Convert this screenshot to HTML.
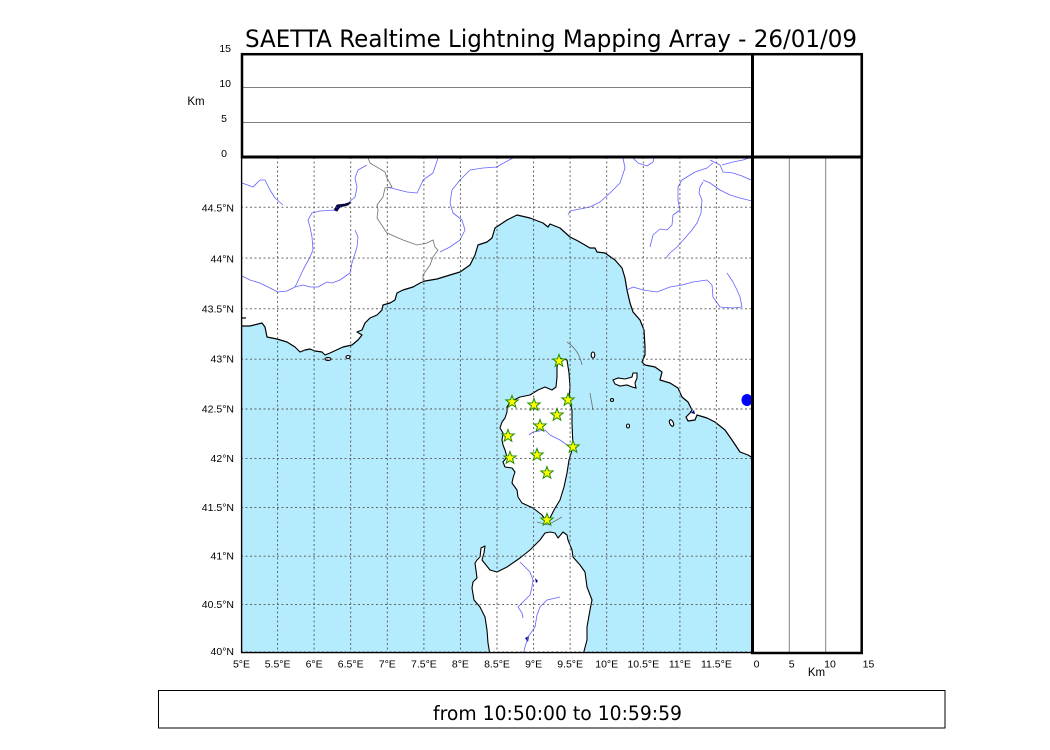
<!DOCTYPE html>
<html><head><meta charset="utf-8"><style>
html,body{margin:0;padding:0;background:#fff;}
svg{display:block;}
text{font-family:"Liberation Sans","DejaVu Sans",sans-serif;fill:#000;}
</style></head><body>
<svg width="1050" height="750" viewBox="0 0 1050 750" xmlns="http://www.w3.org/2000/svg">
<defs>
<clipPath id="mc"><rect x="241.5" y="157" width="510.5" height="496"/></clipPath>
<path id="st" d="M0,-6.5 L1.59,-2.18 L6.18,-2.01 L2.57,0.83 L3.82,5.26 L0,2.7 L-3.82,5.26 L-2.57,0.83 L-6.18,-2.01 L-1.59,-2.18 Z"/>
</defs>
<rect width="1050" height="750" fill="#fff"/>
<text x="551" y="47" font-size="24" text-anchor="middle" textLength="612" lengthAdjust="spacingAndGlyphs" style="font-family:'DejaVu Sans','Liberation Sans',sans-serif">SAETTA Realtime Lightning Mapping Array - 26/01/09</text>

<!-- top panel -->
<line x1="241" y1="87.5" x2="752" y2="87.5" stroke="#808080" stroke-width="1"/>
<line x1="241" y1="122.5" x2="752" y2="122.5" stroke="#808080" stroke-width="1"/>
<g font-size="10.5" text-anchor="end">
<text x="231" y="52">15</text>
<text x="231" y="87">10</text>
<text x="227" y="122">5</text>
<text x="227" y="157">0</text>
</g>
<text x="196" y="105" font-size="11.5" text-anchor="middle">Km</text>

<!-- map -->
<g clip-path="url(#mc)">
<rect x="241" y="157" width="511" height="496" fill="#fff"/>
<path fill="#b5ecfd" stroke="#000" stroke-width="1.2" stroke-linejoin="round" d="M241,326 L250,326 262,323 265,327 267,337 277,339 287,342 295,347 300,352 305,350 310,349 315,351 322,352 325,355 330,353 343,347 352,345 358,340 362,335 357,332 362,330 365,323 370,318 377,315 382,310 383,305 390,303 395,300 397,293 403,290 413,287 420,283 425,281 437,279 450,275 460,272 470,265 475,255 478,245 487,242 492,238 495,228 507,220 517,215 530,218 543,223 548,227 550,224 560,228 570,237 578,241 590,248 595,248 597,252 605,253 615,260 622,268 625,278 627,290 630,303 633,312 640,320 644,330 645,347 645,355 642,362 645,365 655,367 662,372 660,380 670,383 678,388 682,397 688,402 692,410 690,413 686,417 688,421 695,420 697,415 707,418 715,422 725,430 732,440 740,452 748,455 753,458 L753,654 L240,654 Z"/>
<line x1="241" y1="318" x2="246" y2="318" stroke="#000" stroke-width="1.2"/>
<!-- small islands -->
<g fill="#fff" stroke="#000" stroke-width="1.1">
<ellipse cx="328" cy="359" rx="3" ry="1.5"/>
<ellipse cx="348" cy="357" rx="2" ry="1.5"/>
<ellipse cx="593" cy="355" rx="1.8" ry="3" />
<path d="M613,380 L618,378 625,379 632,377 633,373 637,373 637,378 635,383 636,388 632,387 627,385 620,386 615,384 Z"/>
<ellipse cx="612" cy="400" rx="1.5" ry="1.5"/>
<ellipse cx="628" cy="426" rx="1.5" ry="2"/>
<ellipse cx="671.5" cy="423" rx="1.8" ry="3.5" transform="rotate(-25 671.5 423)"/>
<!-- Corsica -->
<path stroke-linejoin="round" d="M559,358 L567,360 569,373 570,387 569,398 572,410 572,423 573,447 569,460 567,473 564,487 560,500 554,510 550,518 547,522 542,515 533,508 522,503 518,497 517,490 512,483 513,478 515,472 512,468 505,467 503,462 507,457 505,450 503,445 502,440 503,433 500,428 502,422 505,418 507,412 507,407 510,402 520,397 530,395 538,390 545,387 552,390 556,387 557,377 557,367 Z"/>
<!-- Sardinia -->
<path stroke-linejoin="round" d="M550,532 L555,533 558,538 563,532 567,535 568,540 572,550 573,557 580,565 585,572 587,587 592,600 590,610 587,627 587,640 583,655 490,655 488,643 487,630 485,617 480,607 474,600 472,588 473,582 477,578 475,563 477,560 480,557 481,548 485,546 484,553 482,560 490,570 497,572 507,567 520,558 530,550 540,540 545,533 Z"/>
</g>
<!-- lakes -->
<path d="M334,210 L337,205 345,204 351,202 348,205 340,207 337,211 Z" fill="#000080" stroke="#000" stroke-width="0.8"/>
<ellipse cx="747" cy="400" rx="5.5" ry="6" fill="#0000ff"/>
<path d="M691,413 L694,410 695,414 Z" fill="#000080"/>
<path d="M535,578 L538,581 536,583 Z" fill="#000080"/>
<path d="M525,638 L529,636 528,642 Z" fill="#000080"/>
<!-- rivers -->
<g fill="none" stroke="#6262ff" stroke-width="0.8" stroke-linejoin="round">
<polyline points="242,183 253,187 260,180 265,180 270,190 275,198 283,205"/>
<polyline points="367,165 358,170 355,178 357,187 355,197 348,203"/>
<polyline points="335,210 320,211 312,213 308,220 310,227 312,237 313,250 310,257 303,270 297,283 295,287"/>
<polyline points="242,276 250,280 260,283 270,288 278,292 287,291 295,287 303,285 310,287 318,287 327,282 332,283 340,280 347,275 350,273 352,263 357,247 358,237 355,230"/>
<polyline points="387,187 407,192 417,193 420,187 423,180 433,173 438,158"/>
<polyline points="513,158 500,165 497,167 483,168 470,170 460,180 452,190 450,203 453,213 462,220 465,230 460,240 450,247 440,252"/>
<polyline points="623,158 625,168 620,183 610,193 600,202 590,207 580,209 570,211 568,215"/>
<polyline points="633,158 638,163 647,166 653,162 654,158"/>
<polyline points="710,160 720,165 723,172 733,173 742,176 751,180"/>
<polyline points="722,165 733,162 743,160 752,157"/>
<polyline points="703,180 710,183 720,190 730,195 740,198 752,201"/>
<polyline points="703,182 700,187 699,193 702,200 701,213 697,223 692,230 685,238 677,247 670,253 666,258"/>
<polyline points="682,180 678,187 678,200 680,210 673,215 672,225 667,230 660,229 653,235 650,247"/>
<polyline points="682,180 695,172 707,168 713,163"/>
<polyline points="627,290 633,287 643,290 657,292 670,287 682,285 693,282 707,280 712,285 713,297 720,307 733,308 742,307 740,297 737,290 733,282 727,273"/>
<polyline points="529,435 533,432 545,430 550,435 560,440 570,447"/>
<polyline points="520,562 525,567 530,572 533,580 532,587 530,595 522,603 518,607 522,613 523,618"/>
<polyline points="560,597 547,600 540,607 537,615 535,627 528,637 525,647 523,655"/>
</g>
<!-- borders / gray lines -->
<g fill="none" stroke="#707070" stroke-width="0.8">
<polyline points="368,158 370,163 385,172 387,178 392,187 385,188 383,197 377,205 378,210 377,218 383,227 387,233 403,240 417,245 427,243 433,240 435,247 438,250 433,257 430,265 423,275 423,282"/>
<path d="M567,342 Q579,350 582,365"/>
<path d="M590,393 L593,410"/>
<path d="M537,522 L548,525 L562,517"/>
</g>
<!-- grid -->
<g stroke="#555" stroke-width="0.9" stroke-dasharray="2,2.5" fill="none">
<path d="M241,604.4H752M241,556.2H752M241,507.6H752M241,458.4H752M241,409H752M241,359.2H752M241,308.8H752M241,258.1H752M241,207.2H752M241,652H752"/>
<path d="M277.6,157V653M314.1,157V653M350.7,157V653M387.3,157V653M423.9,157V653M460.4,157V653M497,157V653M533.6,157V653M570.1,157V653M606.7,157V653M643.3,157V653M679.9,157V653M716.4,157V653"/>
</g>
<!-- stars -->
<g fill="#ffff00" stroke="#1f8a00" stroke-width="1">
<use href="#st" x="559" y="361"/>
<use href="#st" x="512" y="402"/>
<use href="#st" x="534" y="405"/>
<use href="#st" x="568" y="400"/>
<use href="#st" x="557" y="415"/>
<use href="#st" x="540" y="426"/>
<use href="#st" x="508" y="436"/>
<use href="#st" x="573" y="447"/>
<use href="#st" x="510" y="458"/>
<use href="#st" x="537" y="455"/>
<use href="#st" x="547" y="473"/>
<use href="#st" x="547" y="520"/>
</g>
</g>

<!-- right panel -->
<line x1="789.3" y1="157" x2="789.3" y2="653" stroke="#808080" stroke-width="1"/>
<line x1="825.7" y1="157" x2="825.7" y2="653" stroke="#808080" stroke-width="1"/>

<!-- frames -->
<line x1="241.6" y1="157" x2="241.6" y2="653" stroke="#000" stroke-width="1.4"/>
<line x1="241" y1="652.6" x2="752" y2="652.6" stroke="#000" stroke-width="1.4"/>
<rect x="242" y="54.2" width="619.8" height="102.8" fill="none" stroke="#000" stroke-width="2.5"/>
<line x1="241" y1="157" x2="862" y2="157" stroke="#000" stroke-width="3"/>
<line x1="752.5" y1="53" x2="752.5" y2="654" stroke="#000" stroke-width="3"/>
<line x1="861.7" y1="53" x2="861.7" y2="654" stroke="#000" stroke-width="2.5"/>
<line x1="751" y1="653" x2="863" y2="653" stroke="#000" stroke-width="2.5"/>

<!-- lat labels -->
<g font-size="10.5" text-anchor="end">
<text x="234" y="211.5">44.5°N</text>
<text x="234" y="262.5">44°N</text>
<text x="234" y="312.5">43.5°N</text>
<text x="234" y="362.5">43°N</text>
<text x="234" y="412.5">42.5°N</text>
<text x="234" y="462">42°N</text>
<text x="234" y="511">41.5°N</text>
<text x="234" y="559.5">41°N</text>
<text x="234" y="608">40.5°N</text>
<text x="234" y="655">40°N</text>
</g>
<!-- lon labels -->
<g font-size="10.5" text-anchor="middle">
<text x="241.5" y="667.5">5°E</text>
<text x="277.6" y="667.5">5.5°E</text>
<text x="314.1" y="667.5">6°E</text>
<text x="350.7" y="667.5">6.5°E</text>
<text x="387.3" y="667.5">7°E</text>
<text x="423.9" y="667.5">7.5°E</text>
<text x="460.4" y="667.5">8°E</text>
<text x="497" y="667.5">8.5°E</text>
<text x="533.6" y="667.5">9°E</text>
<text x="570.1" y="667.5">9.5°E</text>
<text x="606.7" y="667.5">10°E</text>
<text x="643.3" y="667.5">10.5°E</text>
<text x="679.9" y="667.5">11°E</text>
<text x="716.4" y="667.5">11.5°E</text>
<text x="756.5" y="667.5">0</text>
<text x="791.7" y="667.5">5</text>
<text x="830" y="667.5">10</text>
<text x="868.5" y="667.5">15</text>
</g>
<text x="816.5" y="676" font-size="11.5" text-anchor="middle">Km</text>

<!-- bottom box -->
<rect x="158.5" y="690.5" width="786.5" height="37.5" fill="none" stroke="#000" stroke-width="1"/>
<text x="557.5" y="720" font-size="19.5" text-anchor="middle" textLength="249" lengthAdjust="spacingAndGlyphs" style="font-family:'DejaVu Sans','Liberation Sans',sans-serif">from 10:50:00 to 10:59:59</text>
</svg>
</body></html>
